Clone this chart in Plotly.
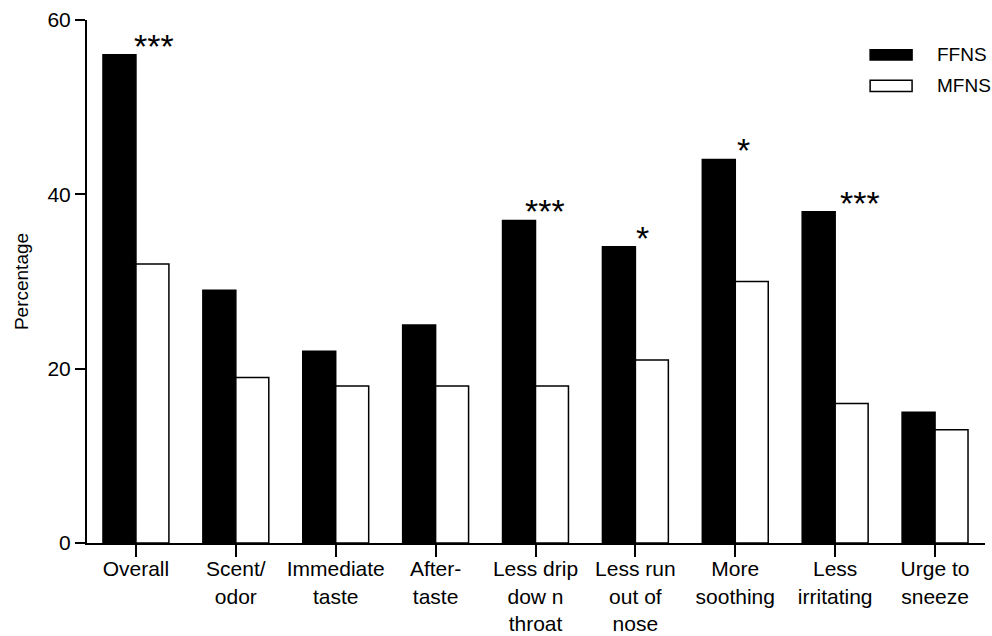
import plotly.graph_objects as go

categories = ["Overall", "Scent/<br>odor", "Immediate<br>taste", "After-<br>taste",
              "Less drip<br>dow n<br>throat", "Less run<br>out of<br>nose",
              "More<br>soothing", "Less<br>irritating", "Urge to<br>sneeze"]
ffns = [56, 29, 22, 25, 37, 34, 44, 38, 15]
mfns = [32, 19, 18, 18, 18, 21, 30, 16, 13]
stars = ["***", "", "", "", "***", "*", "*", "***", ""]
star_xshift = [18, 0, 0, 0, 9, 7, 8, 25, 0]

FONT = "Liberation Sans, Arial, sans-serif"
xs = list(range(len(categories)))

fig = go.Figure()
fig.add_trace(go.Bar(x=xs, y=ffns, name="FFNS", marker=dict(color="black", line=dict(color="black", width=1.5))))
fig.add_trace(go.Bar(x=xs, y=mfns, name="MFNS", marker=dict(color="white", line=dict(color="black", width=1.5))))

for i, s in enumerate(stars):
    if s:
        fig.add_annotation(x=i, y=ffns[i], text=s, showarrow=False, xanchor="center", yanchor="bottom",
                           xshift=star_xshift[i], yshift=-12,
                           font=dict(family=FONT, size=34, color="black"))

# legend drawn manually (wide rectangles)
legend_items = [("FFNS", "black", 56.6, 55.4), ("MFNS", "white", 53.1, 51.8)]
for name, col, y0, y1 in legend_items:
    fig.add_shape(type="rect", xref="x", yref="y", x0=7.35, x1=7.77, y0=y1, y1=y0,
                  fillcolor=col, line=dict(color="black", width=1.5))
    fig.add_annotation(x=8.0, y=(y0 + y1) / 2, xref="x", yref="y", text=name, showarrow=False,
                       xanchor="left", yanchor="middle", font=dict(family=FONT, size=19, color="black"))

fig.update_layout(
    width=992, height=636,
    margin=dict(l=87, r=7, t=20, b=93, autoexpand=False),
    paper_bgcolor="white", plot_bgcolor="white",
    barmode="group", bargap=0.34, bargroupgap=0,
    showlegend=False,
    font=dict(family=FONT, size=21, color="black"),
)
fig.update_xaxes(range=[-0.49, 8.5], tickvals=xs, ticktext=categories,
                 showline=True, linecolor="black", linewidth=2,
                 ticks="outside", ticklen=12, tickwidth=2, tickcolor="black",
                 showgrid=False, zeroline=False, tickangle=0, ticklabelstandoff=-6,
                 tickfont=dict(family=FONT, size=21))
fig.update_yaxes(range=[0, 60], tickvals=[0, 20, 40, 60],
                 showline=True, linecolor="black", linewidth=2,
                 ticks="outside", ticklen=10, tickwidth=2, tickcolor="black",
                 showgrid=False, zeroline=False,
                 tickfont=dict(family=FONT, size=21),
                 title=dict(text="Percentage", font=dict(family=FONT, size=19), standoff=14))

fig.write_html("out.html", config={"displayModeBar": False},
               post_script="document.body.style.margin='0';")
